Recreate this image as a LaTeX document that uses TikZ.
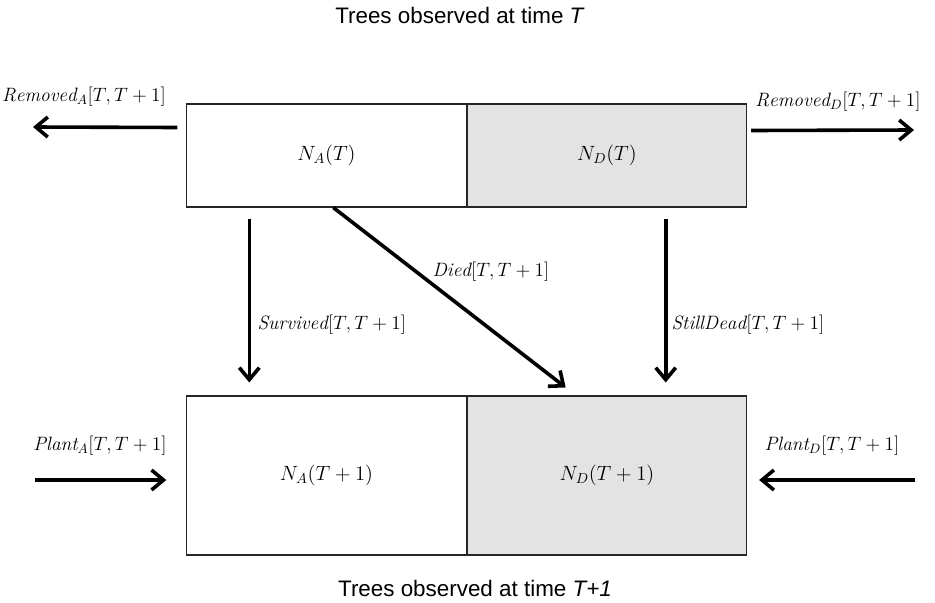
\RequirePackage{fix-cm}
\documentclass[tikz,border=0pt]{standalone}
\usepackage{fontspec}
\setsansfont{Liberation Sans}
\usetikzlibrary{positioning,calc,arrows.meta}

\tikzset{
  box/.style={draw=black!85, line width=0.8pt, inner sep=0pt,
    minimum width=209.5pt, font=\fontsize{15.5}{18}\selectfont},
  deadbox/.style={box, fill=black!11},
  flow/.style={line width=2.7pt, -{Straight Barb[length=9pt,width=15pt]}},
  lbl/.style={font=\fontsize{14.5}{17}\selectfont, inner sep=1pt},
  title/.style={font=\sffamily\fontsize{16.8}{19}\selectfont}
}

\begin{document}
\begin{tikzpicture}[x=0.75pt, y=-0.75pt]

    \useasboundingbox (0,0) rectangle (935,603);

    % boxes at time T
    \node[box, minimum height=77.25pt] (na) at (326.5,155.5) {$N_A(T)$};
    \node[deadbox, minimum height=77.25pt, right=0pt of na] (nd) {$N_D(T)$};

    % boxes at time T+1
    \node[box, minimum height=119.25pt] (na1) at (326.5,475.5) {$N_A(T+1)$};
    \node[deadbox, minimum height=119.25pt, right=0pt of na1] (nd1) {$N_D(T+1)$};

    \node[title] (ttop) at (460,15) {Trees observed at time \textit{T}};
    \node[title] (tbot) at (475,588) {Trees observed at time \textit{T+1}};

    % free ends
    \coordinate (remA) at (33,127);
    \coordinate (remD) at (914,130);
    \coordinate (plA) at (35,480);
    \coordinate (plD) at (915,480);

    % removals
    \draw[flow] ($(na.west)+(-9,-28)$) -- (remA);
    \draw[flow] ($(nd.east)+(4,-25)$) -- (remD);
    \node[lbl] (lremA) at (84,97) {$\mathit{Removed}_A[T,T+1]$};
    \node[lbl] (lremD) at (838,102) {$\mathit{Removed}_D[T,T+1]$};

    % transitions
    \draw[flow] ($(na.south west)+(63,11)$) -- ($(na1.north west)+(63,-13)$);
    \draw[flow] ($(na.south west)+(147,0)$) -- ($(nd1.north west)+(99,-8)$);
    \draw[flow] ($(nd.south west)+(199,11)$) -- ($(nd1.north west)+(199,-13)$);
    \node[lbl, anchor=west] (lsurv) at (256,325) {$\mathit{Survived}[T,T+1]$};
    \node[lbl] (ldied) at (491,272) {$\mathit{Died}[T,T+1]$};
    \node[lbl, anchor=west] (lstill) at (670,325) {$\mathit{StillDead}[T,T+1]$};

    % planting
    \draw[flow] (plA) -- ($(na1.west)+(-20,4.5)$);
    \draw[flow] (plD) -- ($(nd1.east)+(12,4.5)$);
    \node[lbl] (lplA) at (100,446) {$\mathit{Plant}_A[T,T+1]$};
    \node[lbl] (lplD) at (832,446) {$\mathit{Plant}_D[T,T+1]$};

\end{tikzpicture}
\end{document}
